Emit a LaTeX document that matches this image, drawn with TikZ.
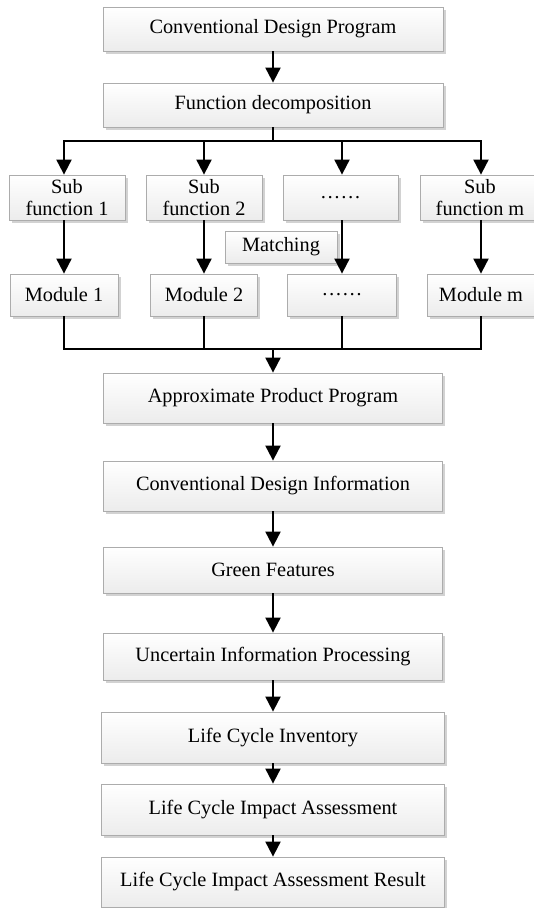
\documentclass[tikz,border=0pt]{standalone}
\usepackage{fontspec}
\setmainfont{Liberation Serif}
\usetikzlibrary{arrows.meta,shadows}
\begin{document}
\begin{tikzpicture}[x=1pt,y=-1pt,
  box/.style={draw=gray!65, line width=0.8pt, top color=white, bottom color=gray!15,
    drop shadow={shadow xshift=2.5pt, shadow yshift=-2.5pt, fill=black!35, opacity=0.5},
    inner sep=0pt, align=center, font=\fontsize{20.3}{22}\selectfont},
  arr/.style={line width=2pt, -{Triangle[length=15pt,width=15pt]}},
  ln/.style={line width=2pt}]
\clip (0,0) rectangle (534,908);
\fill[white] (0,0) rectangle (534,908);
% main top boxes
\node[box, minimum width=340pt, minimum height=44pt] (cdp) at (273,29) {Conventional Design Program};
\node[box, minimum width=340pt, minimum height=44pt] (fd) at (273,105) {Function decomposition};
% sub functions
\node[box, minimum width=116pt, minimum height=45pt] (sub1) at (67,197.5) {Sub\\function 1};
\node[box, minimum width=116pt, minimum height=45pt] (sub2) at (204,197.5) {Sub\\function 2};
\node[box, minimum width=115pt, minimum height=45pt] (sub3) at (340.5,197.5) {……};
\node[box, minimum width=120pt, minimum height=45pt] (subm) at (480,197.5) {Sub\\function m};
% matching
\node[box, minimum width=112pt, minimum height=32pt] (match) at (281,247) {Matching};
% modules
\node[box, minimum width=108pt, minimum height=42pt] (mod1) at (64,295) {Module 1};
\node[box, minimum width=107pt, minimum height=42pt] (mod2) at (204,295) {Module 2};
\node[box, minimum width=109pt, minimum height=42pt] (mod3) at (342,295) {……};
\node[box, minimum width=108pt, minimum height=42pt] (modm) at (481,295) {Module m};
% lower chain
\node[box, minimum width=339pt, minimum height=50pt] (approx) at (273,398) {Approximate Product Program};
\node[box, minimum width=339pt, minimum height=50pt] (cdi) at (273,486) {Conventional Design Information};
\node[box, minimum width=339pt, minimum height=46pt] (gf) at (273,570) {Green Features};
\node[box, minimum width=339pt, minimum height=47pt] (uip) at (273,656.5) {Uncertain Information Processing};
\node[box, minimum width=343pt, minimum height=51pt] (lci) at (273,737.5) {Life Cycle Inventory};
\node[box, minimum width=343pt, minimum height=51pt] (lcia) at (273,809.5) {Life Cycle Impact Assessment};
\node[box, minimum width=343pt, minimum height=50pt] (lciar) at (273,882) {Life Cycle Impact Assessment Result};
% connectors
\coordinate (br) at (273,141);
\coordinate (mg) at (273,349);
\draw[arr] (cdp) -- (fd);
\draw[arr] (fd.south) -- (br) -| (sub1.north -| mod1.north);
\draw[arr] (br) -| (subm.north -| modm.north);
\draw[arr] (br -| mod2.north) -- (sub2.north -| mod2.north);
\draw[arr] (br -| mod3.north) -- (sub3.north -| mod3.north);
\draw[arr] (sub1.south -| mod1.north) -- (mod1.north);
\draw[arr] (sub2.south -| mod2.north) -- (mod2.north);
\draw[arr] (sub3.south -| mod3.north) -- (mod3.north);
\draw[arr] (subm.south -| modm.north) -- (modm.north);
\draw[ln] (mod1.south) |- (modm.south |- mg) -- (modm.south);
\draw[ln] (mod2.south) -- (mod2.south |- mg);
\draw[ln] (mod3.south) -- (mod3.south |- mg);
\draw[arr] (mg) -- (approx.north);
\draw[arr] (approx) -- (cdi);
\draw[arr] (cdi) -- (gf);
\draw[arr] (gf) -- (uip);
\draw[arr] (uip) -- (lci);
\draw[arr] (lci) -- (lcia);
\draw[arr] (lcia) -- (lciar);
\end{tikzpicture}
\end{document}
